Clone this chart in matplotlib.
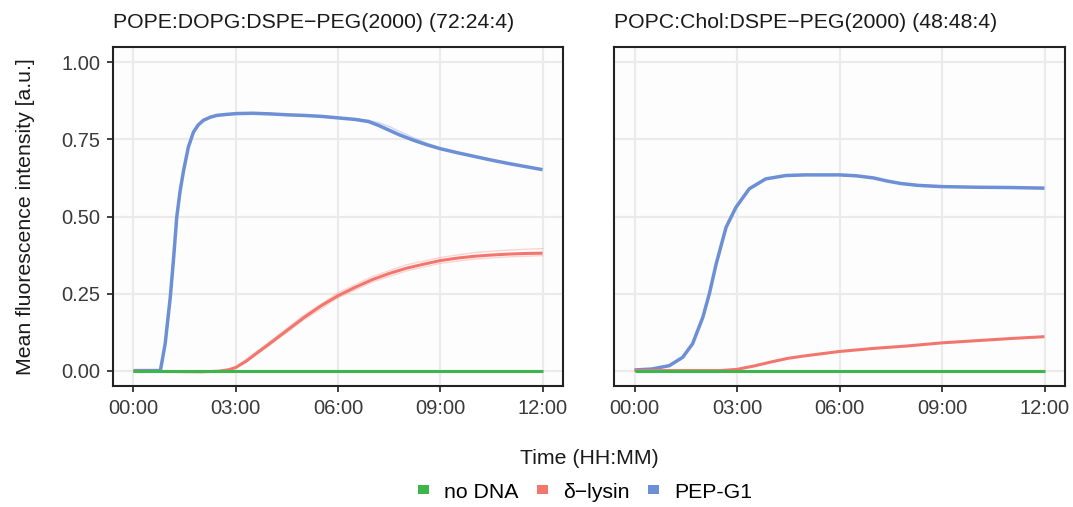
import numpy as np
import matplotlib.pyplot as plt
import matplotlib.ticker as ticker
from matplotlib.patches import Patch

plt.rcParams['font.family'] = ['Liberation Sans', 'DejaVu Sans']

# colours (ggplot-ish hue palette)
col_green = '#3DB54A'
col_red = '#F2766E'
col_blue = '#6C8FD6'

panel_titles = ['POPE:DOPG:DSPE\u2212PEG(2000) (72:24:4)', 'POPC:Chol:DSPE\u2212PEG(2000) (48:48:4)']
legend_labels = ['no DNA', '\u03b4\u2212lysin', 'PEP-G1']
x_ticks_h = [0, 3, 6, 9, 12]
x_tick_labels = ['00:00', '03:00', '06:00', '09:00', '12:00']
y_ticks = [0.00, 0.25, 0.50, 0.75, 1.00]

# ---- panel 1: POPE:DOPG ----
t_blue1 = [0.0, 0.5, 0.79, 0.93, 1.08, 1.18, 1.27, 1.37, 1.47, 1.61, 1.76, 1.9, 2.05, 2.25, 2.44,
           2.7, 3.03, 3.5, 4.0, 4.5, 5.0, 5.5, 6.0, 6.5, 6.9, 7.2, 7.5, 7.8, 8.2, 8.6, 9.0, 9.5,
           10.0, 10.5, 11.0, 11.5, 12.0]
v_blue1 = [0.0, 0.0, 0.0, 0.087, 0.238, 0.368, 0.498, 0.584, 0.649, 0.725, 0.774, 0.797, 0.812,
           0.822, 0.828, 0.831, 0.834, 0.835, 0.833, 0.83, 0.828, 0.825, 0.82, 0.815, 0.808, 0.795,
           0.78, 0.765, 0.748, 0.733, 0.72, 0.707, 0.695, 0.683, 0.672, 0.662, 0.652]
# faint replicate that sits a little higher during the 07:00-08:30 drop
t_blue1_rep = [6.5, 6.9, 7.2, 7.5, 7.8, 8.2, 8.6, 9.0]
v_blue1_rep = [0.817, 0.812, 0.804, 0.792, 0.776, 0.756, 0.738, 0.722]

t_red1 = [0.0, 1.0, 2.0, 2.5, 2.8, 3.0, 3.3, 3.6, 4.0, 4.5, 5.0, 5.5, 6.0, 6.5, 7.0, 7.5, 8.0, 8.5,
          9.0, 9.5, 10.0, 10.5, 11.0, 11.5, 12.0]
v_red1 = [-0.002, -0.003, -0.004, -0.002, 0.003, 0.01, 0.03, 0.055, 0.088, 0.13, 0.172, 0.21, 0.243,
          0.27, 0.295, 0.315, 0.332, 0.345, 0.357, 0.365, 0.371, 0.375, 0.378, 0.38, 0.381]
t_red1_rep = [3.0, 4.0, 5.0, 6.0, 7.0, 8.0, 9.0, 10.0, 11.0, 12.0]
v_red1_hi = [0.012, 0.094, 0.18, 0.252, 0.305, 0.343, 0.367, 0.383, 0.391, 0.396]
v_red1_lo = [0.008, 0.083, 0.165, 0.236, 0.287, 0.323, 0.348, 0.362, 0.369, 0.373]

t_green1 = [0.0, 12.0]
v_green1 = [0.0, 0.0]

# ---- panel 2: POPC:Chol ----
t_blue2 = [0.0, 0.5, 1.02, 1.41, 1.7, 2.0, 2.19, 2.39, 2.68, 2.97, 3.36, 3.84, 4.43, 5.0, 5.5, 6.0,
           6.5, 7.0, 7.4, 7.8, 8.3, 9.0, 10.0, 11.0, 12.0]
v_blue2 = [0.002, 0.005, 0.016, 0.043, 0.087, 0.173, 0.249, 0.346, 0.465, 0.53, 0.59, 0.622, 0.633,
           0.635, 0.635, 0.635, 0.632, 0.625, 0.615, 0.607, 0.601, 0.597, 0.595, 0.594, 0.592]

t_red2 = [0.0, 2.5, 3.0, 3.5, 4.0, 4.5, 5.0, 6.0, 7.0, 8.0, 9.0, 10.0, 11.0, 12.0]
v_red2 = [0.0, 0.0, 0.004, 0.015, 0.028, 0.04, 0.048, 0.062, 0.072, 0.08, 0.09, 0.097, 0.104, 0.11]

t_green2 = [0.0, 12.0]
v_green2 = [0.0, 0.0]

fig = plt.figure(figsize=(10.73, 5.07), dpi=100)
fig.patch.set_facecolor('white')
ax1 = fig.add_axes([113 / 1073, 1 - 386 / 507, 450 / 1073, 339 / 507])
ax2 = fig.add_axes([614 / 1073, 1 - 386 / 507, 451 / 1073, 339 / 507])

panels = [
    (ax1, t_green1, v_green1, t_red1, v_red1, t_blue1, v_blue1),
    (ax2, t_green2, v_green2, t_red2, v_red2, t_blue2, v_blue2),
]

for i, (ax, tg, vg, tr, vr, tb, vb) in enumerate(panels):
    ax.set_facecolor('#FDFDFD')
    ax.set_xlim(-0.6, 12.6)
    ax.set_ylim(-0.05, 1.05)
    ax.grid(True, color='#EBEBEB', linewidth=1.6, zorder=0)
    ax.set_axisbelow(True)
    if i == 0:
        ax.plot(t_red1_rep, v_red1_hi, color=col_red, lw=1.0, alpha=0.3, zorder=2)
        ax.plot(t_red1_rep, v_red1_lo, color=col_red, lw=1.0, alpha=0.3, zorder=2)
        ax.plot(t_blue1_rep, v_blue1_rep, color=col_blue, lw=1.2, alpha=0.3, zorder=2)
    ax.plot(tb, vb, color=col_blue, lw=2.5, zorder=3, solid_capstyle='butt')
    ax.plot(tr, vr, color=col_red, lw=2.2, zorder=4, solid_capstyle='butt')
    ax.plot(tg, vg, color=col_green, lw=2.2, zorder=5, solid_capstyle='butt')

    ax.set_xticks(x_ticks_h)
    ax.set_xticklabels(x_tick_labels)
    ax.set_yticks(y_ticks)
    ax.yaxis.set_major_formatter(ticker.FormatStrFormatter('%.2f'))
    for s in ax.spines.values():
        s.set_color('#222222')
        s.set_linewidth(1.5)
    ax.tick_params(axis='both', direction='out', length=4, width=1.3, color='#333333',
                   labelsize=14.5, labelcolor='#3A3A3A', pad=5)
    if i == 1:
        ax.tick_params(axis='y', left=False, labelleft=False)
    ax.set_title(panel_titles[i], loc='left', fontsize=15.3, color='#1A1A1A', pad=14, x=0.0)

ax1.set_ylabel('Mean fluorescence intensity [a.u.]', fontsize=15.3, color='#1A1A1A', labelpad=19)
fig.text(589 / 1073, 1 - 458 / 507, 'Time (HH:MM)', ha='center', va='center', fontsize=15.3, color='#1A1A1A')

handles = [Patch(facecolor=c, edgecolor='none') for c in (col_green, col_red, col_blue)]
fig.legend(handles, legend_labels, loc='center', bbox_to_anchor=(585 / 1073, 1 - 492 / 507), ncol=3,
           frameon=False, fontsize=15.3, handlelength=0.55, handleheight=0.25, handletextpad=0.7,
           columnspacing=0.85)

fig.savefig('out.png', dpi=100)
